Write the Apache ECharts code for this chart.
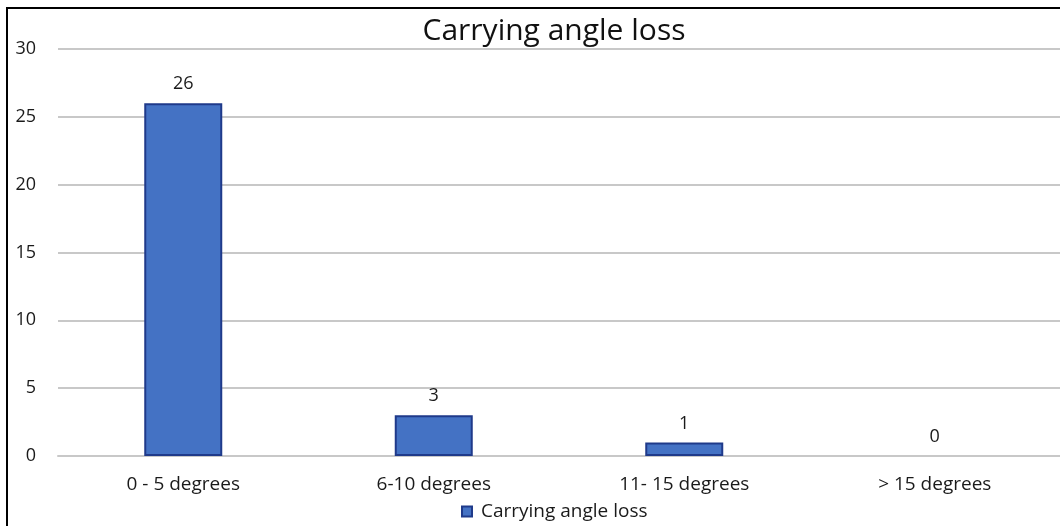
<!DOCTYPE html>
<html>
<head>
<meta charset="utf-8">
<script src="https://cdn.jsdelivr.net/npm/echarts@6/dist/echarts.min.js"></script>
<style>
  html, body { margin: 0; padding: 0; background: #fff; }
  #chart { width: 1060px; height: 526px; }
</style>
</head>
<body>
<div id="chart"></div>
<script>
// Carrying angle loss distribution
const categories = ['0 - 5 degrees', '6-10 degrees', '11- 15 degrees', '> 15 degrees'];
const counts = [26, 3, 1, 0];
const seriesName = 'Carrying angle loss';
const titleText = 'Carrying angle loss';

const font = '"Open Sans", Lato, sans-serif';
const chart = echarts.init(document.getElementById('chart'));

// zero-height bars get no outline so they don't leave a stray line on the axis
const barData = counts.map(v => ({
  value: v,
  itemStyle: v === 0 ? { borderWidth: 0 } : undefined
}));

chart.setOption({
  backgroundColor: '#fff',
  animation: false,
  title: {
    text: titleText,
    left: 549,
    top: 11,
    textAlign: 'center',
    textStyle: { fontFamily: font, fontSize: 30, fontWeight: 'normal', color: '#111' }
  },
  legend: {
    data: [seriesName],
    bottom: 0,
    left: 456,
    itemWidth: 10,
    itemHeight: 10,
    itemGap: 8,
    icon: 'rect',
    textStyle: { fontFamily: font, fontSize: 19, color: '#1a1a1a', padding: [0, 0, 0, 4] }
  },
  grid: { left: 58, right: -6, top: 49, bottom: 70, containLabel: false },
  xAxis: {
    type: 'category',
    data: categories,
    axisLine: { lineStyle: { color: '#c8c8c8', width: 2 } },
    axisTick: { show: false },
    axisLabel: { fontFamily: font, fontSize: 19, color: '#1a1a1a', margin: 19 }
  },
  yAxis: {
    type: 'value',
    min: 0,
    max: 30,
    interval: 5,
    axisLine: { show: false },
    axisTick: { show: false },
    splitLine: { lineStyle: { color: '#c8c8c8', width: 2 } },
    axisLabel: { fontFamily: font, fontSize: 18, color: '#1a1a1a', margin: 22 }
  },
  series: [{
    name: seriesName,
    type: 'bar',
    data: barData,
    barWidth: 78,
    itemStyle: { color: '#4472c4', borderColor: '#1f3a8a', borderWidth: 2 },
    label: {
      show: true,
      position: 'top',
      distance: 10,
      fontFamily: font,
      fontSize: 18,
      color: '#1a1a1a'
    }
  }],
  graphic: [{
    type: 'polyline',
    shape: { points: [[7, 526], [7, 8], [1060, 8]] },
    style: { stroke: '#000', lineWidth: 2, fill: null },
    silent: true
  }]
});
</script>
</body>
</html>
